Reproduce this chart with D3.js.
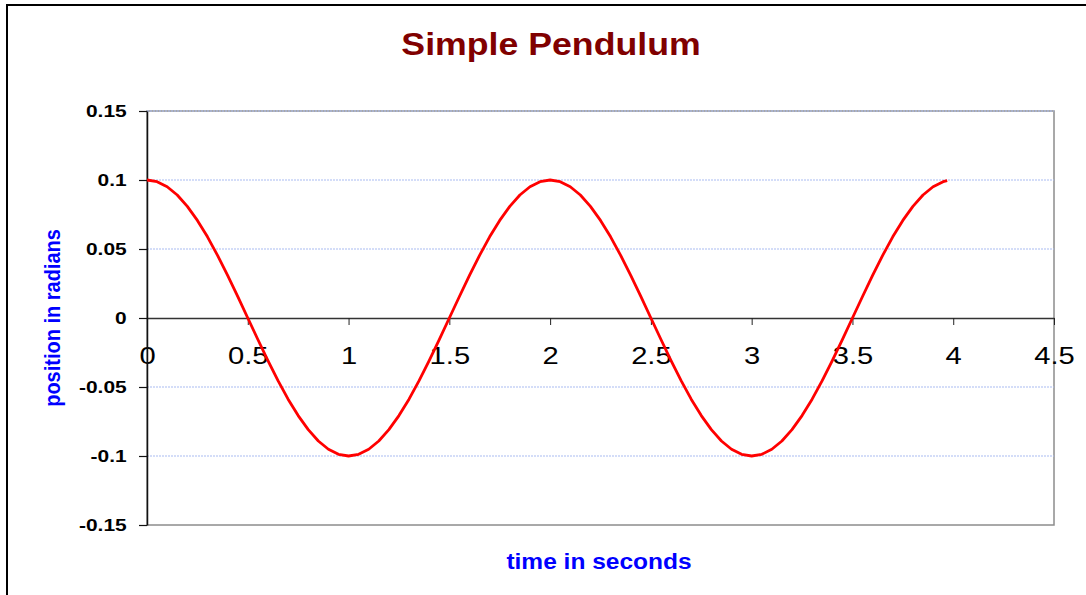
<!DOCTYPE html>
<html>
<head>
<meta charset="utf-8">
<script src="https://cdn.jsdelivr.net/npm/d3@7"></script>
<style>
  html, body { margin: 0; padding: 0; background: #fff; }
  svg { display: block; }
  text { font-family: "Liberation Sans", Arial, sans-serif; }
</style>
</head>
<body>
<script>
// time in seconds
const times = [
  0, 0.05, 0.1, 0.15, 0.2, 0.25, 0.3, 0.35, 0.4, 0.45,
  0.5, 0.55, 0.6, 0.65, 0.7, 0.75, 0.8, 0.85, 0.9, 0.95,
  1, 1.05, 1.1, 1.15, 1.2, 1.25, 1.3, 1.35, 1.4, 1.45,
  1.5, 1.55, 1.6, 1.65, 1.7, 1.75, 1.8, 1.85, 1.9, 1.95,
  2, 2.05, 2.1, 2.15, 2.2, 2.25, 2.3, 2.35, 2.4, 2.45,
  2.5, 2.55, 2.6, 2.65, 2.7, 2.75, 2.8, 2.85, 2.9, 2.95,
  3, 3.05, 3.1, 3.15, 3.2, 3.25, 3.3, 3.35, 3.4, 3.45,
  3.5, 3.55, 3.6, 3.65, 3.7, 3.75, 3.8, 3.85, 3.9, 3.95,
  3.97
];
// position in radians
const positions = [
  0.1, 0.0988, 0.0951, 0.0891, 0.0809, 0.0707, 0.0588, 0.0454, 0.0309, 0.0156,
  0, -0.0156, -0.0309, -0.0454, -0.0588, -0.0707, -0.0809, -0.0891, -0.0951, -0.0988,
  -0.1, -0.0988, -0.0951, -0.0891, -0.0809, -0.0707, -0.0588, -0.0454, -0.0309, -0.0156,
  0, 0.0156, 0.0309, 0.0454, 0.0588, 0.0707, 0.0809, 0.0891, 0.0951, 0.0988,
  0.1, 0.0988, 0.0951, 0.0891, 0.0809, 0.0707, 0.0588, 0.0454, 0.0309, 0.0156,
  0, -0.0156, -0.0309, -0.0454, -0.0588, -0.0707, -0.0809, -0.0891, -0.0951, -0.0988,
  -0.1, -0.0988, -0.0951, -0.0891, -0.0809, -0.0707, -0.0588, -0.0454, -0.0309, -0.0156,
  0, 0.0156, 0.0309, 0.0454, 0.0588, 0.0707, 0.0809, 0.0891, 0.0951, 0.0988,
  0.0996
];

const xTicks = [0, 0.5, 1, 1.5, 2, 2.5, 3, 3.5, 4, 4.5];
const xTickLabels = ["0", "0.5", "1", "1.5", "2", "2.5", "3", "3.5", "4", "4.5"];
const yTicks = [0.15, 0.1, 0.05, 0, -0.05, -0.1, -0.15];
const yTickLabels = ["0.15", "0.1", "0.05", "0", "-0.05", "-0.1", "-0.15"];

const W = 1086, H = 595;
const plot = { left: 147, right: 1054, top: 111, bottom: 525 };

const svg = d3.select('body').append('svg')
    .attr('width', W).attr('height', H);

// chart frame
svg.append('rect')
    .attr('x', 7).attr('y', 5)
    .attr('width', 1100).attr('height', 620)
    .attr('fill', '#fff')
    .attr('stroke', '#000')
    .attr('stroke-width', 2);

const x = d3.scaleLinear().domain([0, 4.5]).range([plot.left, plot.right]);
const y = d3.scaleLinear().domain([-0.15, 0.15]).range([plot.bottom, plot.top]);

// plot area border
svg.append('rect')
    .attr('x', plot.left).attr('y', plot.top)
    .attr('width', plot.right - plot.left).attr('height', plot.bottom - plot.top)
    .attr('fill', 'none')
    .attr('stroke', '#8c8c8c')
    .attr('stroke-width', 1.5);

// gridlines
svg.append('g')
    .selectAll('line')
    .data(yTicks.filter(d => d !== 0 && d !== -0.15))
    .join('line')
    .attr('x1', plot.left).attr('x2', plot.right)
    .attr('y1', d => y(d)).attr('y2', d => y(d))
    .attr('stroke', '#a9bcf2')
    .attr('stroke-width', 1.2)
    .attr('stroke-dasharray', '2,1');

// x axis at y = 0
const xAxis = svg.append('g')
    .attr('transform', `translate(0,${y(0)})`)
    .call(d3.axisBottom(x)
        .tickValues(xTicks)
        .tickFormat((d, i) => xTickLabels[i])
        .tickSize(7)
        .tickSizeOuter(0)
        .tickPadding(22));
xAxis.select('.domain').attr('stroke', '#333').attr('stroke-width', 1.5);
xAxis.selectAll('.tick line').attr('stroke', '#222');
xAxis.selectAll('text')
    .attr('font-size', 24.5)
    .attr('fill', '#000')
    .attr('font-family', '"Liberation Sans", Arial, sans-serif')
    .attr('transform', 'scale(1.19,1)');

// y axis
const yAxis = svg.append('g')
    .attr('transform', `translate(${plot.left},0)`)
    .call(d3.axisLeft(y)
        .tickValues(yTicks)
        .tickFormat((d, i) => yTickLabels[i])
        .tickSize(8)
        .tickSizeOuter(0)
        .tickPadding(8));
yAxis.select('.domain').attr('stroke', '#111').attr('stroke-width', 1.5);
yAxis.selectAll('.tick line').attr('stroke', '#111').attr('stroke-width', 1.2);
yAxis.selectAll('text')
    .attr('font-size', 16.5)
    .attr('font-weight', 'bold')
    .attr('fill', '#000')
    .attr('font-family', '"Liberation Sans", Arial, sans-serif')
    .attr('transform', 'scale(1.27,1)');

// pendulum curve
const line = d3.line()
    .x((d, i) => x(times[i]))
    .y(d => y(d));

svg.append('path')
    .datum(positions)
    .attr('d', line)
    .attr('fill', 'none')
    .attr('stroke', '#ff0000')
    .attr('stroke-width', 2.8)
    .attr('stroke-linejoin', 'round');

// title
svg.append('text')
    .attr('transform', 'translate(551,55) scale(1.17,1)')
    .attr('text-anchor', 'middle')
    .attr('font-size', 30.5)
    .attr('font-weight', 'bold')
    .attr('fill', '#800000')
    .text('Simple Pendulum');

// axis titles
svg.append('text')
    .attr('transform', 'translate(599,569) scale(1.14,1)')
    .attr('text-anchor', 'middle')
    .attr('font-size', 21.5)
    .attr('font-weight', 'bold')
    .attr('fill', '#0000ff')
    .text('time in seconds');

svg.append('text')
    .attr('transform', 'translate(60,318) scale(1.12,1) rotate(-90)')
    .attr('text-anchor', 'middle')
    .attr('font-size', 20)
    .attr('font-weight', 'bold')
    .attr('fill', '#0000ff')
    .text('position in radians');
</script>
</body>
</html>
